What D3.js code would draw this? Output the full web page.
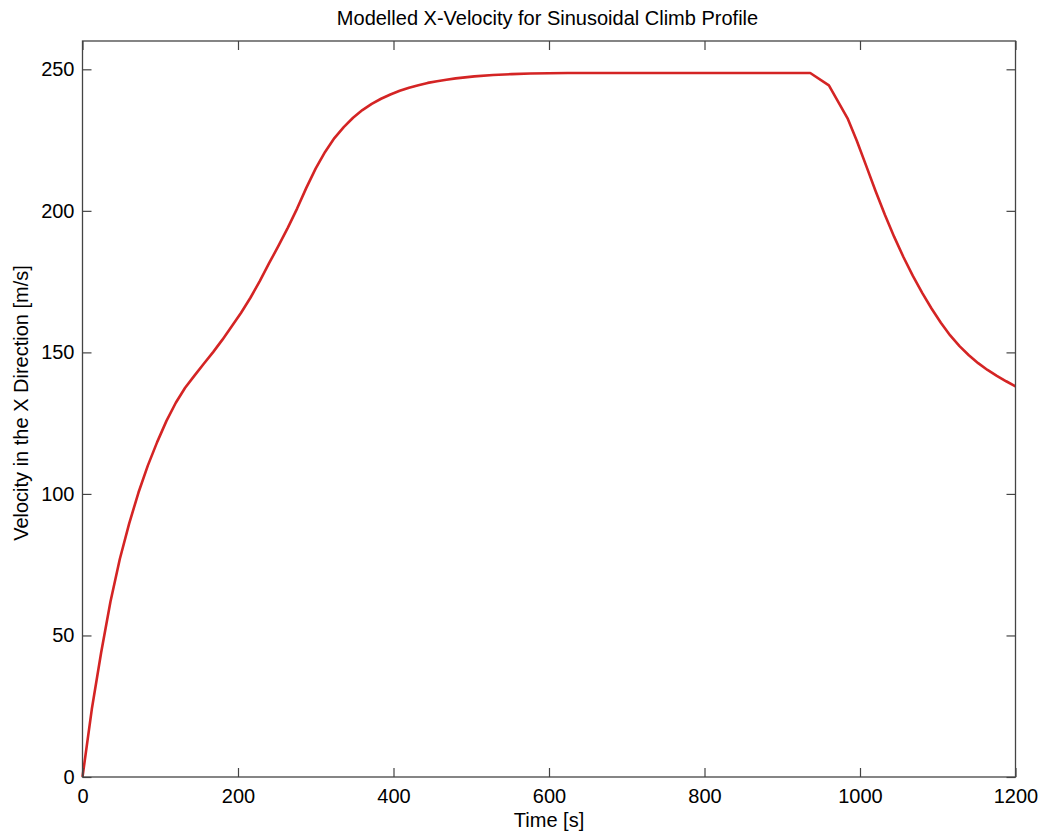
<!DOCTYPE html>
<html>
<head>
<meta charset="utf-8">
<script src="https://cdn.jsdelivr.net/npm/d3@7"></script>
<style>
  html, body { margin: 0; padding: 0; background: #fff; }
  svg { display: block; }
  text { font-family: "Liberation Sans", Arial, Helvetica, sans-serif; fill: #000; }
</style>
</head>
<body>
<svg id="chart" width="1043" height="834"></svg>
<script>
// Time samples (s) and modelled horizontal velocity (m/s)
const timeSeconds = [
  0, 12, 24, 36, 48, 60, 72, 84, 96, 108,
  120, 132, 144, 156, 168, 180, 192, 204, 216, 228,
  240, 252, 264, 276, 288, 300, 312, 324, 336, 348,
  360, 372, 384, 396, 408, 420, 432, 444, 456, 468,
  480, 504, 528, 552, 576, 600, 624, 648, 672, 696,
  720, 744, 768, 792, 816, 840, 864, 888, 912, 936,
  960, 984, 996, 1008, 1020, 1032, 1044, 1056, 1068, 1080,
  1092, 1104, 1116, 1128, 1140, 1152, 1164, 1176, 1188, 1200
];
const velocityX = [
  0, 24, 44, 62, 77, 89.5, 100.5, 110, 118.3, 125.8,
  132.2, 137.5, 141.8, 146, 150.1, 154.5, 159.2, 164, 169.3, 175.2,
  181.5, 187.6, 194, 200.8, 208.2, 215, 220.8, 225.7, 229.6, 232.9,
  235.6, 237.8, 239.6, 241.1, 242.4, 243.5, 244.4, 245.2, 245.8, 246.3,
  246.8, 247.5, 248.0, 248.3, 248.5, 248.6, 248.7, 248.7, 248.7, 248.7,
  248.7, 248.7, 248.7, 248.7, 248.7, 248.7, 248.7, 248.7, 248.7, 248.7,
  244.3, 232.7, 224.7, 215.9, 207.0, 198.6, 190.8, 183.6, 177.0, 171.0,
  165.5, 160.5, 156.0, 152.2, 149.0, 146.2, 143.8, 141.7, 139.8, 138.0
];
const xTicks = [0, 200, 400, 600, 800, 1000, 1200];
const yTicks = [0, 50, 100, 150, 200, 250];
const xDomain = [0, 1200];
const yDomain = [0, 260];

const titleText = "Modelled X-Velocity for Sinusoidal Climb Profile";
const xLabelText = "Time [s]";
const yLabelText = "Velocity in the X Direction [m/s]";

const svg = d3.select("#chart");
const plot = { left: 82.5, right: 1015.5, top: 41, bottom: 777 };
const axisColor = "#444";
const tickLen = 9;

const x = d3.scaleLinear().domain(xDomain).range([plot.left, plot.right]);
const y = d3.scaleLinear().domain(yDomain).range([plot.bottom, plot.top]);

// Velocity trace
const line = d3.line()
  .x((d, i) => x(timeSeconds[i]))
  .y(d => y(d));

svg.append("path")
  .datum(velocityX)
  .attr("d", line)
  .attr("fill", "none")
  .attr("stroke", "#d42424")
  .attr("stroke-width", 2.6)
  .attr("stroke-linejoin", "round");

// Axes: inward ticks on all four sides, labels on bottom and left
function styleAxis(g) {
  g.select(".domain").remove();
  g.selectAll(".tick line").attr("stroke", axisColor).attr("stroke-width", 1.2);
  g.selectAll(".tick text").attr("font-size", 20).attr("fill", "#000")
    .attr("font-family", "Liberation Sans, Arial, sans-serif");
}

svg.append("g")
  .attr("transform", `translate(0,${plot.bottom})`)
  .call(d3.axisBottom(x).tickValues(xTicks).tickFormat(d3.format("d"))
    .tickSizeInner(-tickLen).tickSizeOuter(0).tickPadding(12))
  .call(styleAxis);

svg.append("g")
  .attr("transform", `translate(0,${plot.top})`)
  .call(d3.axisTop(x).tickValues(xTicks).tickFormat("")
    .tickSizeInner(-tickLen).tickSizeOuter(0))
  .call(styleAxis);

svg.append("g")
  .attr("transform", `translate(${plot.left},0)`)
  .call(d3.axisLeft(y).tickValues(yTicks).tickFormat(d3.format("d"))
    .tickSizeInner(-tickLen).tickSizeOuter(0).tickPadding(8))
  .call(styleAxis);

svg.append("g")
  .attr("transform", `translate(${plot.right},0)`)
  .call(d3.axisRight(y).tickValues(yTicks).tickFormat("")
    .tickSizeInner(-tickLen).tickSizeOuter(0))
  .call(styleAxis);

// Plot box
svg.append("rect")
  .attr("x", plot.left).attr("y", plot.top)
  .attr("width", plot.right - plot.left).attr("height", plot.bottom - plot.top)
  .attr("fill", "none").attr("stroke", axisColor).attr("stroke-width", 1.3);

// Title and axis labels
const cx = (plot.left + plot.right) / 2;
svg.append("text")
  .attr("x", cx - 1.5).attr("y", 25)
  .attr("text-anchor", "middle").attr("font-size", 20)
  .text(titleText);

svg.append("text")
  .attr("x", cx).attr("y", 827)
  .attr("text-anchor", "middle").attr("font-size", 20)
  .text(xLabelText);

svg.append("text")
  .attr("transform", `translate(28,403) rotate(-90)`)
  .attr("text-anchor", "middle").attr("font-size", 20)
  .text(yLabelText);
</script>
</body>
</html>
